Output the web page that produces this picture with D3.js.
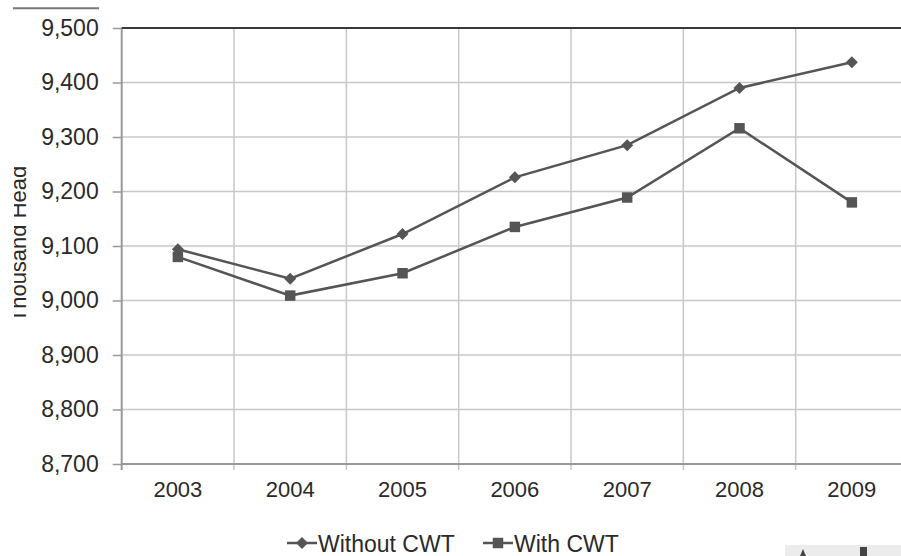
<!DOCTYPE html>
<html>
<head>
<meta charset="utf-8">
<script src="https://cdn.jsdelivr.net/npm/d3@7"></script>
<style>
  html, body { margin: 0; padding: 0; background: #fff; }
  svg { display: block; font-family: "Liberation Sans", Arial, sans-serif; }
</style>
</head>
<body>
<svg id="chart" width="901" height="556"></svg>
<script>
// Cattle inventory, thousand head
const years = ["2003", "2004", "2005", "2006", "2007", "2008", "2009"];
const withoutCWT = [9094, 9040, 9122, 9226, 9285, 9390, 9437];
const withCWT = [9080, 9009, 9050, 9135, 9189, 9316, 9180];
const yTicks = [8700, 8800, 8900, 9000, 9100, 9200, 9300, 9400, 9500];
const seriesNames = ["Without CWT", "With CWT"];

(function draw() {
  const svg = d3.select("#chart");
  const W = 901, H = 556;
  const plotLeft = 121.7, plotRight = 908, plotTop = 28, plotBottom = 464;
  const ink = "#555";
  const textInk = "#2a2a2a";

  const x = d3.scaleBand().domain(years).range([plotLeft, plotRight]).paddingInner(0).paddingOuter(0);
  const y = d3.scaleLinear().domain([8700, 9500]).range([plotBottom, plotTop]);

  // horizontal gridlines
  svg.append("g").selectAll("line").data(yTicks.slice(1, -1)).join("line")
    .attr("x1", plotLeft).attr("x2", W).attr("y1", d => y(d)).attr("y2", d => y(d))
    .attr("stroke", "#c8c8c8").attr("stroke-width", 1.5);

  // vertical gridlines at category boundaries
  const bounds = years.slice(1).map(d => x(d));
  svg.append("g").selectAll("line").data(bounds).join("line")
    .attr("x1", d => d).attr("x2", d => d).attr("y1", plotTop).attr("y2", plotBottom + 6)
    .attr("stroke", "#c8c8c8").attr("stroke-width", 1.5);

  // y axis
  const yAxis = svg.append("g").attr("transform", `translate(${plotLeft},0)`)
    .call(d3.axisLeft(y).tickValues(yTicks).tickSize(9).tickPadding(14).tickFormat(d3.format(",")));
  yAxis.select(".domain").remove();
  yAxis.selectAll(".tick line").attr("stroke", "#999").attr("stroke-width", 1.5);
  yAxis.selectAll("text").attr("font-size", 23).attr("fill", textInk);
  svg.append("line").attr("x1", plotLeft).attr("x2", plotLeft).attr("y1", plotTop).attr("y2", plotBottom + 6)
    .attr("stroke", "#999").attr("stroke-width", 2);

  // x axis
  const xAxis = svg.append("g").attr("transform", `translate(0,${plotBottom})`)
    .call(d3.axisBottom(x).tickSize(0).tickPadding(24));
  xAxis.select(".domain").remove();
  xAxis.selectAll("text").attr("font-size", 22).attr("fill", textInk).attr("dy", "0.42em");
  svg.append("line").attr("x1", plotLeft).attr("x2", W).attr("y1", plotBottom).attr("y2", plotBottom)
    .attr("stroke", "#999").attr("stroke-width", 2);

  // top frame line
  svg.append("line").attr("x1", plotLeft).attr("x2", W).attr("y1", y(9500)).attr("y2", y(9500))
    .attr("stroke", "#3a3a3a").attr("stroke-width", 2);
  svg.append("line").attr("x1", 13).attr("x2", 99).attr("y1", 8.3).attr("y2", 8.3)
    .attr("stroke", "#777").attr("stroke-width", 2);

  // y axis title, partly cut at the left edge
  svg.append("clipPath").attr("id", "titleClip")
    .append("rect").attr("x", 14).attr("y", 0).attr("width", 40).attr("height", H);
  svg.append("g").attr("clip-path", "url(#titleClip)")
    .append("text")
    .attr("transform", `translate(26,244) rotate(-90)`)
    .attr("text-anchor", "middle").attr("font-size", 22).attr("fill", textInk)
    .text("Thousand Head");

  // series
  const cx = d => x(d) + x.bandwidth() / 2;
  const line = d3.line().x((d, i) => cx(years[i])).y(d => y(d));
  const diamond = "M0,-6L6,0L0,6L-6,0Z";
  const square = d3.symbol().type(d3.symbolSquare).size(110)();

  svg.append("path").datum(withoutCWT).attr("d", line)
    .attr("fill", "none").attr("stroke", ink).attr("stroke-width", 2.5);
  svg.append("path").datum(withCWT).attr("d", line)
    .attr("fill", "none").attr("stroke", ink).attr("stroke-width", 2.5);

  svg.append("g").selectAll("path").data(withoutCWT).join("path")
    .attr("d", diamond).attr("fill", ink)
    .attr("transform", (d, i) => `translate(${cx(years[i])},${y(d)})`);
  svg.append("g").selectAll("path").data(withCWT).join("path")
    .attr("d", square).attr("fill", ink)
    .attr("transform", (d, i) => `translate(${cx(years[i])},${y(d)})`);

  // legend
  const legend = svg.append("g");
  const items = [
    { name: seriesNames[0], x0: 287, sym: diamond },
    { name: seriesNames[1], x0: 483, sym: square }
  ];
  items.forEach(it => {
    legend.append("line").attr("x1", it.x0).attr("x2", it.x0 + 30)
      .attr("y1", 543).attr("y2", 543).attr("stroke", ink).attr("stroke-width", 2.5);
    legend.append("path").attr("d", it.sym).attr("fill", ink)
      .attr("transform", `translate(${it.x0 + 15},543)`);
    legend.append("text").attr("x", it.x0 + 31).attr("y", 552)
      .attr("font-size", 23).attr("fill", textInk).text(it.name);
  });

  // corner strip at the bottom right
  svg.append("rect").attr("x", 785).attr("y", 545).attr("width", 116).attr("height", 11).attr("fill", "#ececec");
  svg.append("path").attr("d", "M800,556 L803,549 L806,556 Z").attr("fill", "#444");
  svg.append("rect").attr("x", 860).attr("y", 547).attr("width", 7).attr("height", 9).attr("fill", "#444");
})();
</script>
</body>
</html>
